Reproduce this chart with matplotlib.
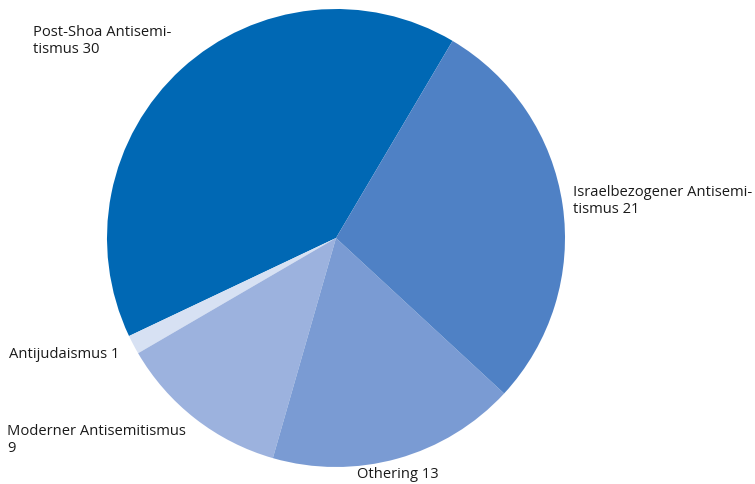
import matplotlib
matplotlib.use("Agg")
import matplotlib.pyplot as plt

labels = ["Post-Shoa Antisemi-\ntismus", "Antijudaismus", "Moderner Antisemitismus\n",
          "Othering", "Israelbezogener Antisemi-\ntismus"]
values = [30, 1, 9, 13, 21]
colors = ["#0068b4", "#d7e1f3", "#9cb2de", "#7a9bd3", "#4f81c5"]

# label anchor points in figure pixels (left, vertical centre)
label_pos = [(33, 41), (9, 355), (7, 440), (357, 474), (573, 201)]

W, H = 755, 484
fig = plt.figure(figsize=(W / 100, H / 100), dpi=100)
cx, cy, r = 336, 238, 229
ax = fig.add_axes([(cx - r) / W, (H - cy - r) / H, 2 * r / W, 2 * r / H])
ax.pie(values, colors=colors, startangle=59.4, counterclock=True, radius=1,
       wedgeprops=dict(linewidth=0))
ax.set_xlim(-1, 1)
ax.set_ylim(-1, 1)
ax.set_aspect("equal")
ax.axis("off")

for lab, v, (px, py) in zip(labels, values, label_pos):
    txt = f"{lab} {v}" if not lab.endswith("\n") else f"{lab}{v}"
    fig.text(px / W, 1 - py / H, txt, ha="left", va="center",
             fontsize=10.6, family=["Open Sans", "DejaVu Sans"],
             color="#1a1a1a", linespacing=1.1)

fig.savefig("out.png", dpi=100, facecolor="white")
